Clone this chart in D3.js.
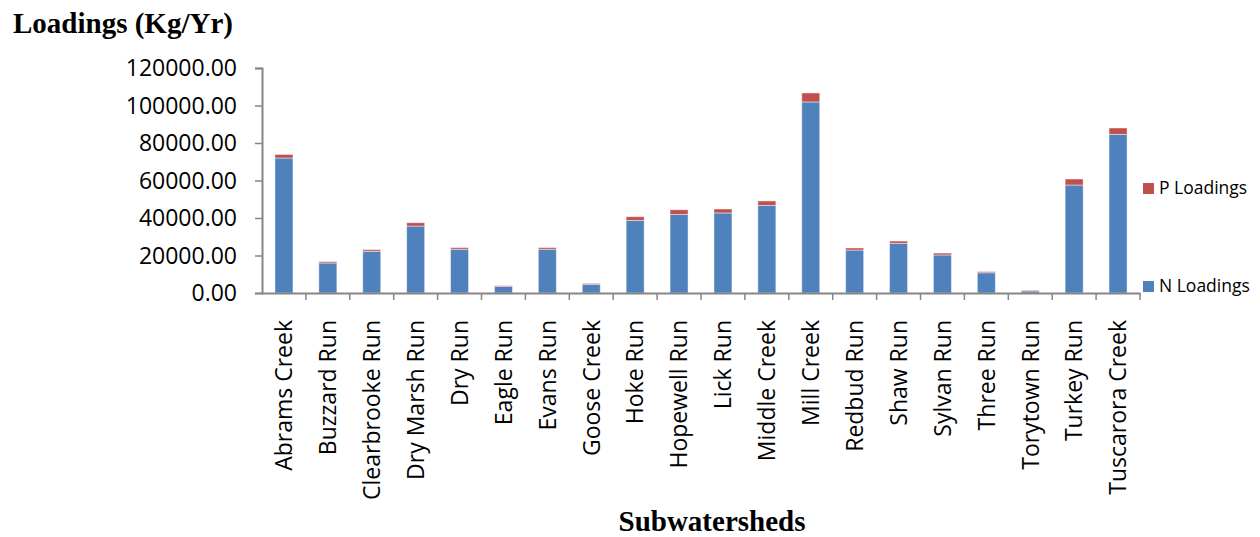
<!DOCTYPE html>
<html>
<head>
<meta charset="utf-8">
<script src="https://cdn.jsdelivr.net/npm/d3@7"></script>
<style>
  body { margin: 0; background: #fff; }
  .tick text { font-family: "Open Sans", sans-serif; fill: #000; }
</style>
</head>
<body>
<svg id="chart" width="1260" height="537"></svg>
<script>
// datos
var subwatersheds = ["Abrams Creek", "Buzzard Run", "Clearbrooke Run", "Dry Marsh Run", "Dry Run",
  "Eagle Run", "Evans Run", "Goose Creek", "Hoke Run", "Hopewell Run", "Lick Run", "Middle Creek",
  "Mill Creek", "Redbud Run", "Shaw Run", "Sylvan Run", "Three Run", "Torytown Run", "Turkey Run",
  "Tuscarora Creek"];
var nLoadings = [72000, 16000, 22200, 35700, 23300, 3500, 23300, 4600, 38700, 41900, 42700, 46700,
  101900, 22900, 26500, 20300, 10800, 1100, 57600, 84600];
var pLoadings = [1900, 700, 900, 1800, 900, 400, 900, 500, 2000, 2500, 2100, 2400,
  4800, 1100, 1200, 1000, 600, 300, 3200, 3400];
var yTicks = [0, 20000, 40000, 60000, 80000, 100000, 120000];
var keys = ["N Loadings", "P Loadings"];

var svg = d3.select("#chart"),
    x0 = 262, x1 = 1140, yTop = 68, yBottom = 293,
    colors = {"N Loadings": "#4F81BD", "P Loadings": "#C0504D"},
    axisColor = "#868686";

var data = subwatersheds.map(function(s, i) {
  return {name: s, "N Loadings": nLoadings[i], "P Loadings": pLoadings[i]};
});

var xScale = d3.scaleBand().domain(subwatersheds).range([x0, x1]).paddingInner(0.59).paddingOuter(0.295),
    xCat = d3.scaleBand().domain(subwatersheds).range([x0, x1]),
    yScale = d3.scaleLinear().domain([0, 120000]).range([yBottom, yTop]);

// barras apiladas
svg.append("g")
  .selectAll("g")
  .data(d3.stack().keys(keys)(data))
  .enter().append("g")
    .attr("fill", function(d) { return colors[d.key]; })
  .selectAll("rect")
  .data(function(d) { return d; })
  .enter().append("rect")
    .attr("x", function(d) { return xScale(d.data.name); })
    .attr("y", function(d) { return yScale(d[1]); })
    .attr("height", function(d) { return yScale(d[0]) - yScale(d[1]); })
    .attr("width", xScale.bandwidth())
    .attr("stroke", "rgba(255,255,255,0.45)")
    .attr("stroke-width", 1);

// eje y
var yAxis = svg.append("g")
  .attr("transform", "translate(" + x0 + ",0)")
  .call(d3.axisLeft(yScale).tickValues(yTicks).tickSize(7).tickPadding(18).tickFormat(d3.format(".2f")));
yAxis.selectAll("text").attr("font-size", "23px").attr("dy", "0.34em");
yAxis.select(".domain").attr("stroke", axisColor).attr("stroke-width", 2);
yAxis.selectAll(".tick line").attr("stroke", axisColor).attr("stroke-width", 1.5);

// eje x
var xAxis = svg.append("g")
  .attr("transform", "translate(0," + yBottom + ")")
  .call(d3.axisBottom(xCat).tickSize(0).tickPadding(27));
xAxis.select(".domain").attr("stroke", axisColor).attr("stroke-width", 2);
xAxis.selectAll(".tick text")
  .attr("font-size", "23px")
  .attr("transform", "rotate(-90)")
  .attr("text-anchor", "end")
  .attr("x", -27)
  .attr("y", 0)
  .attr("dy", "0.36em");

// marcas entre categorias
svg.append("g")
  .selectAll("line")
  .data(subwatersheds)
  .enter().append("line")
    .attr("x1", function(d) { return xCat(d) + xCat.bandwidth(); })
    .attr("x2", function(d) { return xCat(d) + xCat.bandwidth(); })
    .attr("y1", yBottom)
    .attr("y2", yBottom + 7)
    .attr("stroke", axisColor)
    .attr("stroke-width", 1.5);

// titulos
svg.append("text")
  .attr("x", 13)
  .attr("y", 33)
  .attr("font-family", "'Liberation Serif', serif")
  .attr("font-weight", "bold")
  .attr("font-size", "29px")
  .text("Loadings (Kg/Yr)");

svg.append("text")
  .attr("x", 712)
  .attr("y", 531)
  .attr("text-anchor", "middle")
  .attr("font-family", "'Liberation Serif', serif")
  .attr("font-weight", "bold")
  .attr("font-size", "29px")
  .text("Subwatersheds");

// leyenda
var legend = svg.append("g")
  .attr("font-family", "'Open Sans', sans-serif")
  .attr("font-size", "17.5px")
  .selectAll("g")
  .data(keys.slice().reverse())
  .enter().append("g")
    .attr("transform", function(d, i) { return "translate(1143," + (188 + i * 98) + ")"; });

legend.append("rect")
  .attr("x", 0)
  .attr("y", -5)
  .attr("width", 11)
  .attr("height", 11)
  .attr("fill", function(d) { return colors[d]; });

legend.append("text")
  .attr("x", 16)
  .attr("y", 0)
  .attr("dy", "0.35em")
  .text(function(d) { return d; });
</script>
</body>
</html>
